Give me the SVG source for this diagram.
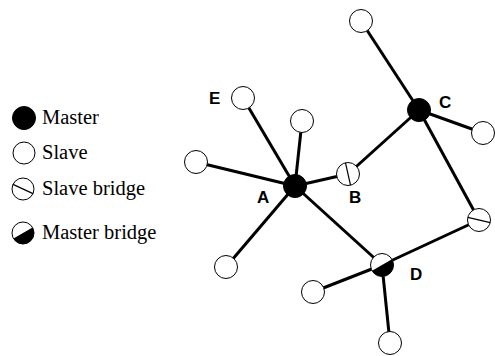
<svg xmlns="http://www.w3.org/2000/svg" width="495" height="356" viewBox="0 0 495 356">
<style>
.n{fill:#fff;stroke:#000;stroke-width:1}
.m{fill:#000;stroke:#000;stroke-width:1}
.half{fill:#000;stroke:none}
.br{stroke:#000;stroke-width:1.2;fill:none}
.e{stroke:#000;stroke-width:3;fill:none}
.lg{font-family:"Liberation Serif","Times New Roman",serif;font-size:20.5px;fill:#000}
.lb{font-family:"Liberation Sans",Arial,sans-serif;font-size:17px;font-weight:bold;fill:#000}
</style>
<rect width="495" height="356" fill="#fff"/>
<g id="legend">
<g id="lg-master"><circle class="m" cx="24" cy="118" r="11.5"/><text class="lg" x="42" y="124">Master</text></g>
<g id="lg-slave"><circle class="n" cx="24" cy="153" r="11"/><text class="lg" x="42" y="159">Slave</text></g>
<g id="lg-sbridge"><g transform="translate(23,189)"><circle class="n" r="11"/><line class="br" x1="-10" y1="-4.6" x2="10" y2="4.6"/></g><text class="lg" x="42" y="195">Slave bridge</text></g>
<g id="lg-mbridge"><g transform="translate(23,233)"><circle class="n" r="11"/><path class="half" d="M9.53,-5.5 A11,11 0 0 1 -9.53,5.5 Z"/></g><text class="lg" x="42" y="239">Master bridge</text></g>
</g>
<g id="connectors">
<line class="e" x1="295" y1="186" x2="243" y2="98"/>
<line class="e" x1="295" y1="186" x2="302" y2="121"/>
<line class="e" x1="295" y1="186" x2="196" y2="162"/>
<line class="e" x1="295" y1="186" x2="226" y2="267"/>
<line class="e" x1="295" y1="186" x2="348" y2="174"/>
<line class="e" x1="295" y1="186" x2="382" y2="265"/>
<line class="e" x1="348" y1="174" x2="419" y2="110"/>
<line class="e" x1="419" y1="110" x2="361" y2="21"/>
<line class="e" x1="419" y1="110" x2="483" y2="133"/>
<line class="e" x1="419" y1="110" x2="479" y2="220"/>
<line class="e" x1="479" y1="220" x2="382" y2="265"/>
<line class="e" x1="382" y1="265" x2="313" y2="292"/>
<line class="e" x1="382" y1="265" x2="390" y2="343"/>
</g>
<g id="A"><circle class="m" cx="295" cy="186" r="11.5"/><text class="lb" x="257" y="203">A</text></g>
<g id="E"><circle class="n" cx="243" cy="98" r="11.5"/><text class="lb" x="209" y="104">E</text></g>
<g id="s-a-top"><circle class="n" cx="302" cy="121" r="11.5"/></g>
<g id="s-a-left"><circle class="n" cx="196" cy="162" r="11.5"/></g>
<g id="s-a-low"><circle class="n" cx="226" cy="267" r="11.5"/></g>
<g id="B"><g transform="translate(348,174)"><circle class="n" r="11.5"/><line class="br" x1="-2.5" y1="-11.2" x2="2.5" y2="11.2"/></g><text class="lb" x="349" y="203">B</text></g>
<g id="C"><circle class="m" cx="419" cy="110" r="11.5"/><text class="lb" x="439" y="108">C</text></g>
<g id="s-c-top"><circle class="n" cx="361" cy="21" r="11.5"/></g>
<g id="s-c-right"><circle class="n" cx="483" cy="133" r="11.5"/></g>
<g id="s-bridge-r"><g transform="translate(479,220)"><circle class="n" r="11.5"/><line class="br" x1="-11.2" y1="-2.7" x2="11.2" y2="2.7"/></g></g>
<g id="D"><g transform="translate(382,265)"><circle class="n" r="11.5"/><path class="half" d="M9.96,-5.75 A11.5,11.5 0 0 1 -9.96,5.75 Z"/></g><text class="lb" x="410" y="280">D</text></g>
<g id="s-d-left"><circle class="n" cx="313" cy="292" r="11.5"/></g>
<g id="s-d-low"><circle class="n" cx="390" cy="343" r="11.5"/></g>
</svg>
